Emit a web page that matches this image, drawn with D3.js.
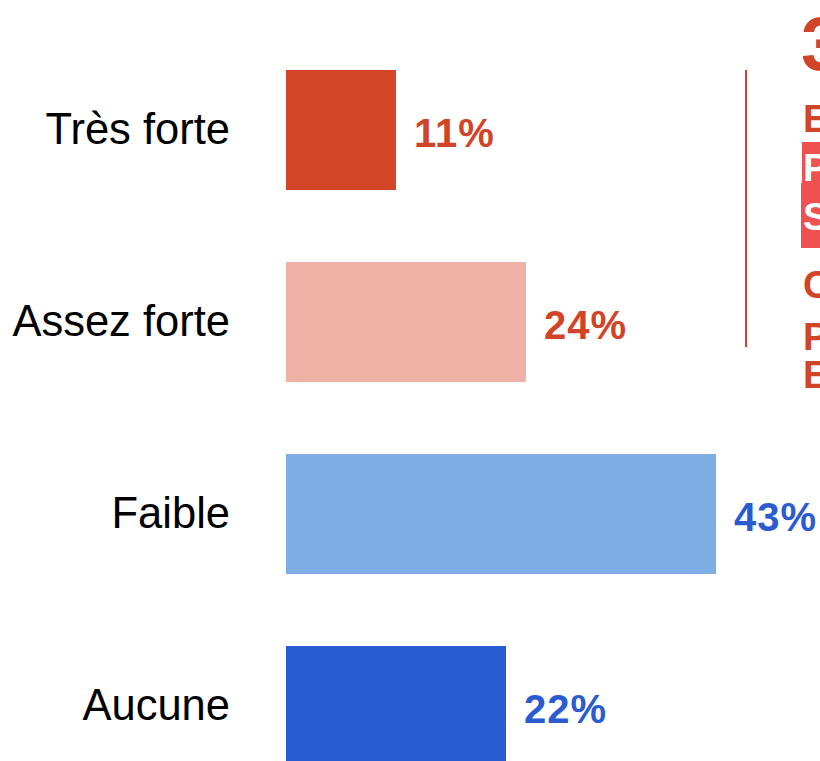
<!DOCTYPE html>
<html>
<head>
<meta charset="utf-8">
<script src="https://cdn.jsdelivr.net/npm/d3@7"></script>
<style>
  html, body { margin: 0; padding: 0; background: #fff; overflow: hidden; }
  svg { display: block; }
</style>
</head>
<body>
<div id="chart"></div>
<script>
const categories = ['Très forte', 'Assez forte', 'Faible', 'Aucune']
const values = [11, 24, 43, 22]
const barColors = ['#d24527', '#efb0a6', '#7eade6', '#285bd1']
const labelColors = ['#d04427', '#d04427', '#2a5bd0', '#2a5bd0']

// side panel text, cut off at the right edge
const sideLetters = ['E', 'P', 'S', 'C', 'P', 'E']
const sideHighlight = [false, true, true, false, false, false]

const width = 820
const height = 761

const svg = d3
  .select('#chart')
  .append('svg')
  .attr('width', width)
  .attr('height', height)

const xScale = d3.scaleLinear().domain([0, 43]).range([286, 716])

const yScale = d3
  .scaleBand()
  .domain(categories)
  .range([70, 766])
  .paddingInner(0.375)
  .paddingOuter(0)

const rows = categories.map((c, i) => ({ cat: c, value: values[i], i }))

svg
  .selectAll('rect.bar')
  .data(rows)
  .join('rect')
  .attr('class', 'bar')
  .attr('x', xScale(0))
  .attr('y', (d) => yScale(d.cat))
  .attr('width', (d) => xScale(d.value) - xScale(0))
  .attr('height', yScale.bandwidth())
  .attr('fill', (d) => barColors[d.i])

svg
  .selectAll('text.cat')
  .data(rows)
  .join('text')
  .attr('class', 'cat')
  .attr('x', 230)
  .attr('y', (d) => yScale(d.cat) + yScale.bandwidth() / 2 + 14)
  .attr('text-anchor', 'end')
  .style('font-family', 'Liberation Sans, Arial, sans-serif')
  .style('font-size', '43.5px')
  .attr('fill', '#000')
  .text((d) => d.cat)

svg
  .selectAll('text.val')
  .data(rows)
  .join('text')
  .attr('class', 'val')
  .attr('x', (d) => xScale(d.value) + 18)
  .attr('y', (d) => yScale(d.cat) + yScale.bandwidth() / 2 + 17)
  .style('font-family', 'Liberation Sans, Arial, sans-serif')
  .style('font-size', '40px')
  .style('font-weight', 'bold')
  .style('letter-spacing', '1px')
  .attr('fill', (d) => labelColors[d.i])
  .text((d) => d.value + '%')

// right-hand panel
const side = svg.append('g')

side
  .append('line')
  .attr('x1', 746)
  .attr('x2', 746)
  .attr('y1', 70)
  .attr('y2', 347)
  .attr('stroke', '#d04427')
  .attr('stroke-width', 2)

side
  .append('text')
  .attr('x', 801)
  .attr('y', 70)
  .style('font-family', 'Liberation Sans, Arial, sans-serif')
  .style('font-size', '76px')
  .style('font-weight', 'bold')
  .attr('fill', '#d04427')
  .text('3')

const letterY = [132, 181, 230, 298, 350, 388]

side
  .append('rect')
  .attr('x', 802)
  .attr('y', 142)
  .attr('width', 30)
  .attr('height', 41)
  .attr('fill', '#ef5050')
side
  .append('rect')
  .attr('x', 801)
  .attr('y', 183)
  .attr('width', 30)
  .attr('height', 65)
  .attr('fill', '#ef5050')

side
  .selectAll('text.side')
  .data(sideLetters)
  .join('text')
  .attr('class', 'side')
  .attr('x', 803)
  .attr('y', (d, i) => letterY[i])
  .style('font-family', 'Liberation Sans, Arial, sans-serif')
  .style('font-size', '38px')
  .style('font-weight', 'bold')
  .attr('fill', (d, i) => (sideHighlight[i] ? '#fff' : '#d04427'))
  .text((d) => d)
</script>
</body>
</html>
